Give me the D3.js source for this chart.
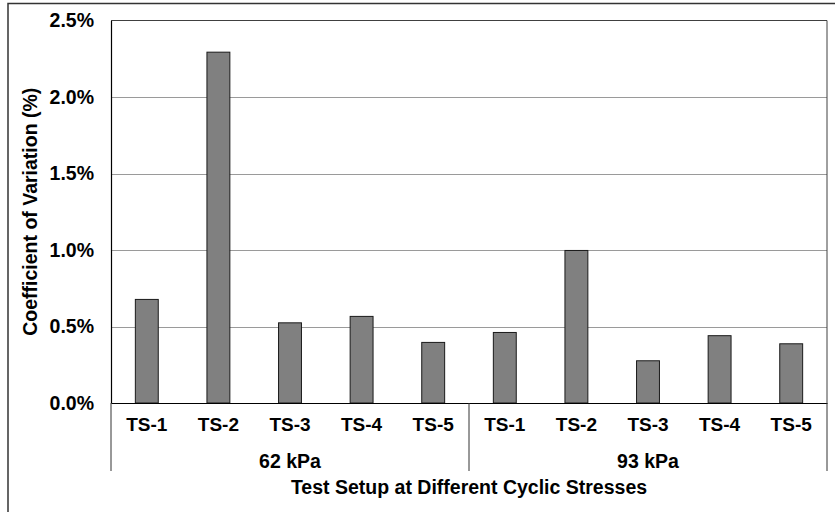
<!DOCTYPE html>
<html>
<head>
<meta charset="utf-8">
<script src="https://cdn.jsdelivr.net/npm/d3@7"></script>
<style>
  html, body { margin: 0; padding: 0; background: #fff; }
  svg { display: block; }
  text { font-family: Arial, "Liberation Sans", sans-serif; font-weight: bold; fill: #000; }
</style>
</head>
<body>
<svg id="chart" width="835" height="512"></svg>
<script>
const groups = ["62 kPa", "93 kPa"];
const setups = ["TS-1", "TS-2", "TS-3", "TS-4", "TS-5"];
const values62 = [0.677, 2.293, 0.524, 0.566, 0.396];
const values93 = [0.461, 0.997, 0.276, 0.440, 0.387];
const yTicks = [0, 0.5, 1.0, 1.5, 2.0, 2.5];
const yTitle = "Coefficient of Variation (%)";
const xTitle = "Test Setup at Different Cyclic Stresses";

const data = [];
groups.forEach((g, gi) => {
  const vals = gi === 0 ? values62 : values93;
  setups.forEach((s, i) => data.push({ key: g + "|" + s, group: g, setup: s, value: vals[i] }));
});

const W = 835, H = 512;
const m = { left: 111, top: 20.5, right: 827, bottom: 403 };
const svg = d3.select("#chart");

// outer frame
svg.append("path")
  .attr("d", `M8,${H} L8,3.5 L${W},3.5`)
  .attr("fill", "none").attr("stroke", "#333").attr("stroke-width", 1.5);

const x = d3.scaleBand().domain(data.map(d => d.key)).range([m.left, m.right]).paddingInner(0.68).paddingOuter(0.34);
const y = d3.scaleLinear().domain([0, 2.5]).range([m.bottom, m.top]);

// gridlines
svg.append("g").selectAll("line").data(yTicks.filter(t => t > 0 && t < 2.5)).join("line")
  .attr("x1", m.left).attr("x2", m.right)
  .attr("y1", d => Math.round(y(d)) + 0.5).attr("y2", d => Math.round(y(d)) + 0.5)
  .attr("stroke", "#9a9a9a").attr("stroke-width", 1);

// plot border top/right
svg.append("path")
  .attr("d", `M${m.left},${m.top} L${m.right},${m.top} L${m.right},${m.bottom}`)
  .attr("fill", "none").attr("stroke", "#404040").attr("stroke-width", 1);

// bars
svg.append("g").selectAll("rect").data(data).join("rect")
  .attr("x", d => x(d.key))
  .attr("y", d => y(d.value))
  .attr("width", x.bandwidth())
  .attr("height", d => y(0) - y(d.value))
  .attr("fill", "#808080").attr("stroke", "#1a1a1a").attr("stroke-width", 1);

// y axis
const yAxis = d3.axisLeft(y).tickValues(yTicks).tickSize(0).tickPadding(17)
  .tickFormat(d => d3.format(".1f")(d) + "%");
const gy = svg.append("g").attr("transform", `translate(${m.left},0)`).call(yAxis);
gy.select(".domain").attr("stroke", "#000").attr("stroke-width", 1.2);
gy.selectAll("text").style("font-size", "19.5px").style("font-family", "Arial, 'Liberation Sans', sans-serif").style("font-weight", "bold");

// x axis
const xAxis = d3.axisBottom(x).tickSize(0).tickPadding(15).tickFormat(k => k.split("|")[1]);
const gx = svg.append("g").attr("transform", `translate(0,${m.bottom})`).call(xAxis);
gx.select(".domain").attr("stroke", "#000").attr("stroke-width", 1.2);
gx.selectAll("text").style("font-size", "19px").style("font-family", "Arial, 'Liberation Sans', sans-serif").style("font-weight", "bold");

// group separators and labels
const groupBounds = groups.map(g => {
  const keys = data.filter(d => d.group === g).map(d => d.key);
  const x0 = x(keys[0]) - x.step() * x.paddingOuter();
  const x1 = x(keys[keys.length - 1]) + x.bandwidth() + x.step() * x.paddingOuter();
  return { g, x0, x1 };
});
const seps = [m.left, groupBounds[0].x1, m.right];
svg.append("g").selectAll("line").data(seps).join("line")
  .attr("x1", d => d).attr("x2", d => d)
  .attr("y1", m.bottom).attr("y2", 471)
  .attr("stroke", "#333").attr("stroke-width", 1);

svg.append("g").selectAll("text").data(groupBounds).join("text")
  .attr("x", d => (d.x0 + d.x1) / 2).attr("y", 461)
  .attr("text-anchor", "middle").attr("dominant-baseline", "central")
  .style("font-size", "19.5px")
  .text(d => d.g);

// axis titles
svg.append("text")
  .attr("x", (m.left + m.right) / 2).attr("y", 487)
  .attr("text-anchor", "middle").attr("dominant-baseline", "central")
  .style("font-size", "19.5px")
  .text(xTitle);

svg.append("text")
  .attr("transform", `translate(30,${(m.top + m.bottom) / 2}) rotate(-90)`)
  .attr("text-anchor", "middle").attr("dominant-baseline", "central")
  .style("font-size", "19.5px")
  .text(yTitle);
</script>
</body>
</html>
